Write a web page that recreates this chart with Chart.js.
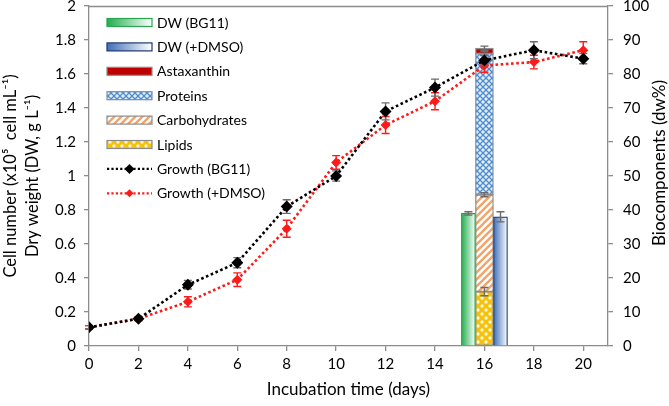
<!DOCTYPE html>
<html><head><meta charset="utf-8">
<script src="https://cdn.jsdelivr.net/npm/chart.js@4.4.1/dist/chart.umd.min.js"></script>
<style>html,body{margin:0;padding:0;background:#fff;}#wrap{width:669px;height:406px;position:relative;}</style>
</head><body><div id="wrap"><canvas id="c"></canvas></div>
<script>
// ---- data ----
const days = [0, 2, 4, 6, 8, 10, 12, 14, 16, 18, 20];
const growthBG11 = [0.11, 0.16, 0.36, 0.49, 0.82, 1.00, 1.38, 1.52, 1.68, 1.74, 1.69];
const growthBG11Err = [0.01, 0.01, 0.025, 0.03, 0.04, 0.03, 0.05, 0.05, 0.03, 0.05, 0.03];
const growthDMSO = [0.11, 0.16, 0.26, 0.39, 0.69, 1.08, 1.30, 1.44, 1.65, 1.67, 1.74];
const growthDMSOErr = [0.01, 0.01, 0.03, 0.04, 0.05, 0.04, 0.05, 0.05, 0.04, 0.04, 0.05];
const dwDay = 16;
const dwLabels = ['DW (BG11)', 'DW (+DMSO)'];
const dwValues = [0.78, 0.76];
const dwErr = [0.01, 0.03];
const compLabels = ['Lipids', 'Carbohydrates', 'Proteins', 'Astaxanthin'];
const compValues = [16, 28.5, 41.5, 1.6];
const compErr = [1.2, 0.6, 0.6, 0.6];
const xTicks = [0, 2, 4, 6, 8, 10, 12, 14, 16, 18, 20];
const leftTicks = [0, 0.2, 0.4, 0.6, 0.8, 1, 1.2, 1.4, 1.6, 1.8, 2];
const leftTickLabels = ['0', '0.2', '0.4', '0.6', '0.8', '1', '1.2', '1.4', '1.6', '1.8', '2'];
const rightTicks = [0, 10, 20, 30, 40, 50, 60, 70, 80, 90, 100];
const rightTickLabels = ['0', '10', '20', '30', '40', '50', '60', '70', '80', '90', '100'];
const legendOrder = ['DW (BG11)', 'DW (+DMSO)', 'Astaxanthin', 'Proteins', 'Carbohydrates', 'Lipids', 'Growth (BG11)', 'Growth (+DMSO)'];
const rightTitle = 'Biocomponents (dw%)';

// ---- styles ----
const FONT = 'Lato, "Open Sans", sans-serif';
const AXIS = '#8c8c8c';
const RED = '#ff1a1a';
function tile(w, h, draw) {
  const c = document.createElement('canvas'); c.width = w; c.height = h;
  const g = c.getContext('2d'); draw(g, w, h);
  return document.createElement('canvas').getContext('2d').createPattern(c, 'repeat');
}
const proteinFill = tile(6, 6, (g) => {
  g.fillStyle = '#e4eef9'; g.fillRect(0, 0, 6, 6);
  g.strokeStyle = '#4f8dcf'; g.lineWidth = 1.3;
  g.beginPath(); g.moveTo(0, 0); g.lineTo(6, 6); g.moveTo(0, 6); g.lineTo(6, 0); g.stroke();
});
const carbFill = tile(7, 7, (g) => {
  g.fillStyle = '#ffffff'; g.fillRect(0, 0, 7, 7);
  g.strokeStyle = '#f2a46a'; g.lineWidth = 2.4;
  g.beginPath(); g.moveTo(-1, 8); g.lineTo(8, -1); g.moveTo(-4.5, 4.5); g.lineTo(4.5, -4.5); g.moveTo(2.5, 11.5); g.lineTo(11.5, 2.5); g.stroke();
});
const lipidFill = tile(8, 8, (g) => {
  g.fillStyle = '#f4c20d'; g.fillRect(0, 0, 8, 8);
  g.fillStyle = '#fff6cf';
  g.beginPath(); g.arc(2, 2, 1.7, 0, Math.PI * 2); g.fill();
  g.beginPath(); g.arc(6, 6, 1.7, 0, Math.PI * 2); g.fill();
});
const compFills = [lipidFill, carbFill, proteinFill, '#c00000'];
const compBorders = ['#8c8c8c', '#8c8c8c', '#7b8ea8', '#8c8c8c'];
const dwColors = [['#1fae4d', '#ffffff'], ['#3f6fb8', '#ffffff']];
const dwBorders = ['#2aa44f', '#1f3870'];
const dwOffsets = [-0.65, 0.65];

function hGrad(ctx2d, x0, x1, cols) {
  const g = ctx2d.createLinearGradient(x0, 0, x1, 0);
  g.addColorStop(0, cols[0]); g.addColorStop(1, cols[1]); return g;
}

// ---- datasets ----
const datasets = [];
datasets.push({
  type: 'line', label: 'Growth (BG11)', yAxisID: 'y', order: 0,
  data: days.map((d, i) => ({ x: d, y: growthBG11[i] })),
  borderColor: '#000', borderWidth: 2.6, borderDash: [2.6, 2.6],
  pointStyle: 'rectRot', pointRadius: 6, pointBackgroundColor: '#000', pointBorderColor: '#000', pointBorderWidth: 0,
  errors: growthBG11Err, errorColor: '#6b6b6b', tension: 0
});
datasets.push({
  type: 'line', label: 'Growth (+DMSO)', yAxisID: 'y', order: 1,
  data: days.map((d, i) => ({ x: d, y: growthDMSO[i] })),
  borderColor: RED, borderWidth: 2.6, borderDash: [2.6, 2.6],
  pointStyle: 'rectRot', pointRadius: 5, pointBackgroundColor: RED, pointBorderColor: RED, pointBorderWidth: 0,
  errors: growthDMSOErr, errorColor: RED, tension: 0
});
dwLabels.forEach((lab, i) => {
  datasets.push({
    type: 'bar', label: lab, yAxisID: 'y', order: 10, grouped: false,
    data: [{ x: dwDay + dwOffsets[i], y: dwValues[i] }],
    barThickness: 14, borderWidth: 1.2, borderColor: dwBorders[i],
    backgroundColor: (ctx) => {
      const ch = ctx.chart, sx = ch.scales && ch.scales.x;
      if (!sx || !ctx.raw) return dwColors[i][0];
      const px = sx.getPixelForValue(ctx.raw.x);
      if (!isFinite(px)) return dwColors[i][0];
      return hGrad(ch.ctx, px - 7, px + 7, dwColors[i]);
    },
    legendGrad: dwColors[i],
    errors: [dwErr[i]], errorColor: '#6b6b6b'
  });
});
let cum = 0;
compLabels.forEach((lab, i) => {
  const start = cum; cum += compValues[i];
  datasets.push({
    type: 'bar', label: lab, yAxisID: 'y2', order: 10 + i, grouped: false,
    data: [{ x: dwDay, y: [start, cum] }],
    barThickness: 18, borderWidth: 1.3, borderColor: compBorders[i], borderSkipped: false,
    backgroundColor: compFills[i],
    errors: [compErr[i]], errorColor: '#6b6b6b'
  });
});

// ---- plugins ----
function drawErr(chart, ds, meta) {
  const c = chart.ctx, ys = chart.scales[ds.yAxisID];
  c.save(); c.strokeStyle = ds.errorColor; c.lineWidth = 1.4; c.setLineDash([]);
  meta.data.forEach((el, i) => {
    const e = ds.errors[i]; if (!e) return;
    const raw = ds.data[i]; const v = Array.isArray(raw.y) ? raw.y[1] : raw.y;
    const x = el.x, y0 = ys.getPixelForValue(v - e), y1 = ys.getPixelForValue(v + e);
    c.beginPath(); c.moveTo(x, y0); c.lineTo(x, y1);
    c.moveTo(x - 4, y0); c.lineTo(x + 4, y0); c.moveTo(x - 4, y1); c.lineTo(x + 4, y1); c.stroke();
  });
  c.restore();
}
const errorBars = {
  id: 'errorBars',
  beforeDatasetDraw(chart, args) {
    const ds = chart.data.datasets[args.index];
    if (ds.errors && ds.type === 'line') drawErr(chart, ds, args.meta);
  },
  afterDatasetDraw(chart, args) {
    const ds = chart.data.datasets[args.index];
    if (ds.errors && ds.type === 'bar') drawErr(chart, ds, args.meta);
  }
};
const frame = {
  id: 'frame',
  afterDraw(chart) {
    const a = chart.chartArea, c = chart.ctx;
    c.save(); c.strokeStyle = AXIS; c.lineWidth = 1.3;
    c.beginPath(); c.moveTo(a.left, a.top + 0.5); c.lineTo(a.right, a.top + 0.5); c.stroke();
    // right axis title, reading bottom-to-top
    const s = chart.scales.y2;
    c.fillStyle = '#000'; c.font = '17px ' + FONT; c.textAlign = 'center'; c.textBaseline = 'middle';
    c.translate(s.right - 9, (a.top + a.bottom) / 2 - 13); c.rotate(-Math.PI / 2);
    c.fillText(rightTitle, 0, 0);
    c.restore();
  }
};
const customLegend = {
  id: 'customLegend',
  afterDraw(chart) {
    const c = chart.ctx; const x0 = 107, x1 = 152, y0 = 22.5, dy = 24.4;
    c.save();
    legendOrder.forEach((lab, r) => {
      const ds = chart.data.datasets.find(d => d.label === lab);
      const y = y0 + r * dy;
      if (ds.type === 'bar') {
        const h = 8;
        c.fillStyle = ds.legendGrad ? hGrad(c, x0, x1, ds.legendGrad) : ds.backgroundColor;
        c.fillRect(x0, y - h / 2, x1 - x0, h);
        c.strokeStyle = ds.borderColor; c.lineWidth = 1.2; c.strokeRect(x0, y - h / 2, x1 - x0, h);
      } else {
        c.strokeStyle = ds.borderColor; c.lineWidth = 2.2; c.setLineDash([2.2, 2.2]);
        c.beginPath(); c.moveTo(x0, y); c.lineTo(x1, y); c.stroke(); c.setLineDash([]);
        const r0 = ds.pointRadius - 1, xm = (x0 + x1) / 2;
        c.fillStyle = ds.pointBackgroundColor;
        c.beginPath(); c.moveTo(xm - r0, y); c.lineTo(xm, y - r0); c.lineTo(xm + r0, y); c.lineTo(xm, y + r0); c.closePath(); c.fill();
      }
      c.fillStyle = '#000'; c.font = '14px ' + FONT; c.textBaseline = 'middle'; c.textAlign = 'left';
      c.fillText(lab, 157, y + 0.5);
    });
    c.restore();
  }
};

// ---- chart ----
new Chart(document.getElementById('c'), {
  data: { datasets },
  plugins: [errorBars, frame, customLegend],
  options: {
    responsive: true, maintainAspectRatio: false, animation: false,
    layout: { padding: { top: 5, left: 0, right: 0, bottom: 0 } },
    plugins: { legend: { display: false }, tooltip: { enabled: false } },
    scales: {
      x: {
        type: 'linear', min: 0, max: 21, offset: false,
        afterBuildTicks: (s) => { s.ticks = xTicks.map(v => ({ value: v })); },
        afterFit: (s) => { s.height = 60; s.paddingLeft = 0; s.paddingRight = 0; },
        grid: { display: true, offset: false, drawOnChartArea: false, drawTicks: true, tickLength: 5, color: AXIS, lineWidth: 1.3 },
        border: { display: true, color: AXIS, width: 1.3 },
        ticks: { font: { family: FONT, size: 15 }, color: '#000', padding: 4, maxRotation: 0, autoSkip: false },
        title: { display: true, text: 'Incubation time (days)', font: { family: FONT, size: 17 }, color: '#000', padding: { top: 0, bottom: 6 } }
      },
      y: {
        type: 'linear', position: 'left', min: 0, max: 2,
        afterBuildTicks: (s) => { s.ticks = leftTicks.map(v => ({ value: v })); },
        afterFit: (s) => { s.width = 89; s.paddingTop = 0; s.paddingBottom = 0; },
        grid: { display: true, drawOnChartArea: false, drawTicks: true, tickLength: 5, color: AXIS, lineWidth: 1.3 },
        border: { display: true, color: AXIS, width: 1.3 },
        ticks: { font: { family: FONT, size: 15 }, color: '#000', padding: 8, autoSkip: false,
          callback: (v, i) => leftTickLabels[i] },
        title: { display: true, text: ['Cell number (x10\u2075  cell mL\u207B\u00B9)', 'Dry weight (DW, g L\u207B\u00B9)'],
          font: { family: FONT, size: 16.5, lineHeight: 1.3 }, color: '#000', padding: 0 }
      },
      y2: {
        type: 'linear', position: 'right', min: 0, max: 100,
        afterBuildTicks: (s) => { s.ticks = rightTicks.map(v => ({ value: v })); },
        afterFit: (s) => { s.width = 61; s.paddingTop = 0; s.paddingBottom = 0; },
        grid: { display: true, drawOnChartArea: false, drawTicks: true, tickLength: 5, color: AXIS, lineWidth: 1.3 },
        border: { display: true, color: AXIS, width: 1.3 },
        ticks: { font: { family: FONT, size: 15 }, color: '#000', padding: 10, autoSkip: false,
          callback: (v, i) => rightTickLabels[i] },
        title: { display: false, text: rightTitle }
      }
    }
  }
});
</script></body></html>
